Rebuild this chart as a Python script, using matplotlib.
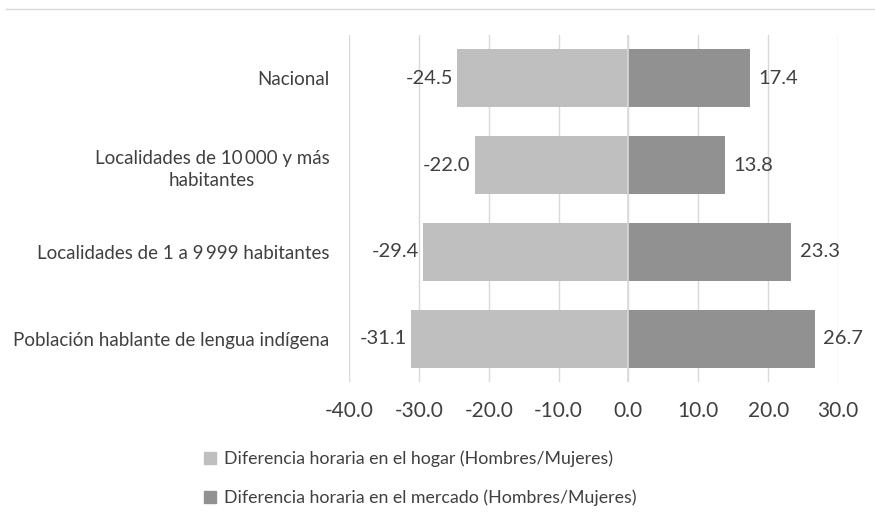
#!/usr/bin/env python3
"""Diferencia horaria en el hogar y en el mercado (Hombres/Mujeres)."""

import matplotlib
matplotlib.use("Agg")
import matplotlib.pyplot as plt
from matplotlib.lines import Line2D
from matplotlib.patches import Patch

plt.rcParams["font.family"] = ["Lato", "DejaVu Sans"]

CATEGORIES = [
    "Nacional",
    "Localidades de 10\u2009000 y más\nhabitantes",
    "Localidades de 1 a 9\u2009999 habitantes",
    "Población hablante de lengua indígena",
]
HOGAR = [-24.5, -22.0, -29.4, -31.1]
MERCADO = [17.4, 13.8, 23.3, 26.7]
SERIES_NAMES = [
    "Diferencia horaria en el hogar (Hombres/Mujeres)",
    "Diferencia horaria en el mercado (Hombres/Mujeres)",
]
X_TICKS = [-40, -30, -20, -10, 0, 10, 20, 30]

LIGHT = "#BFBFBF"
DARK = "#919191"
GRID = "#D9D9D9"
TEXT = "#404040"


def main() -> None:
    fig = plt.figure(figsize=(8.75, 5.25), dpi=100)
    ax = fig.add_axes([0.3989, 0.2724, 0.5588, 0.6609])

    y = list(range(len(CATEGORIES)))
    h = 0.67
    ax.barh(y, HOGAR, height=h, color=LIGHT, zorder=2)
    ax.barh(y, MERCADO, height=h, color=DARK, zorder=2)

    for yi, v in zip(y, HOGAR):
        ax.annotate(f"{v:.1f}", (v, yi), xytext=(-3, 0), textcoords="offset points",
                    ha="right", va="center", fontsize=14.5, color=TEXT, zorder=3)
    for yi, v in zip(y, MERCADO):
        ax.annotate(f"{v:.1f}", (v, yi), xytext=(6, 0), textcoords="offset points",
                    ha="left", va="center", fontsize=14.5, color=TEXT, zorder=3)

    ax.set_xlim(-40, 30)
    ax.set_ylim(len(CATEGORIES) - 0.5, -0.5)
    ax.set_xticks(X_TICKS)
    ax.set_xticklabels([f"{t:.1f}" for t in X_TICKS], fontsize=15, color=TEXT)
    ax.set_yticks(y)
    ax.set_yticklabels(CATEGORIES, fontsize=13.5, color=TEXT,
                       multialignment="center", linespacing=1.4)
    ax.tick_params(axis="y", length=0, pad=14)
    ax.tick_params(axis="x", length=0, pad=14)

    ax.grid(axis="x", color=GRID, linewidth=1, zorder=0)
    ax.axvline(0, color=GRID, linewidth=1.2, zorder=2.5)
    for spine in ax.spines.values():
        spine.set_visible(False)

    fig.add_artist(Line2D([0.007, 1.0], [0.983, 0.983], color=GRID, linewidth=1,
                          transform=fig.transFigure))

    handles = [Patch(color=LIGHT), Patch(color=DARK)]
    fig.legend(handles, SERIES_NAMES, loc="upper left", bbox_to_anchor=(0.225, 0.155),
               frameon=False, fontsize=12.8, ncol=1, handlelength=0.7, handleheight=0.7,
               handletextpad=0.4, labelspacing=1.25, borderaxespad=0, labelcolor=TEXT)

    fig.savefig("out.png", dpi=100)


if __name__ == "__main__":
    main()
